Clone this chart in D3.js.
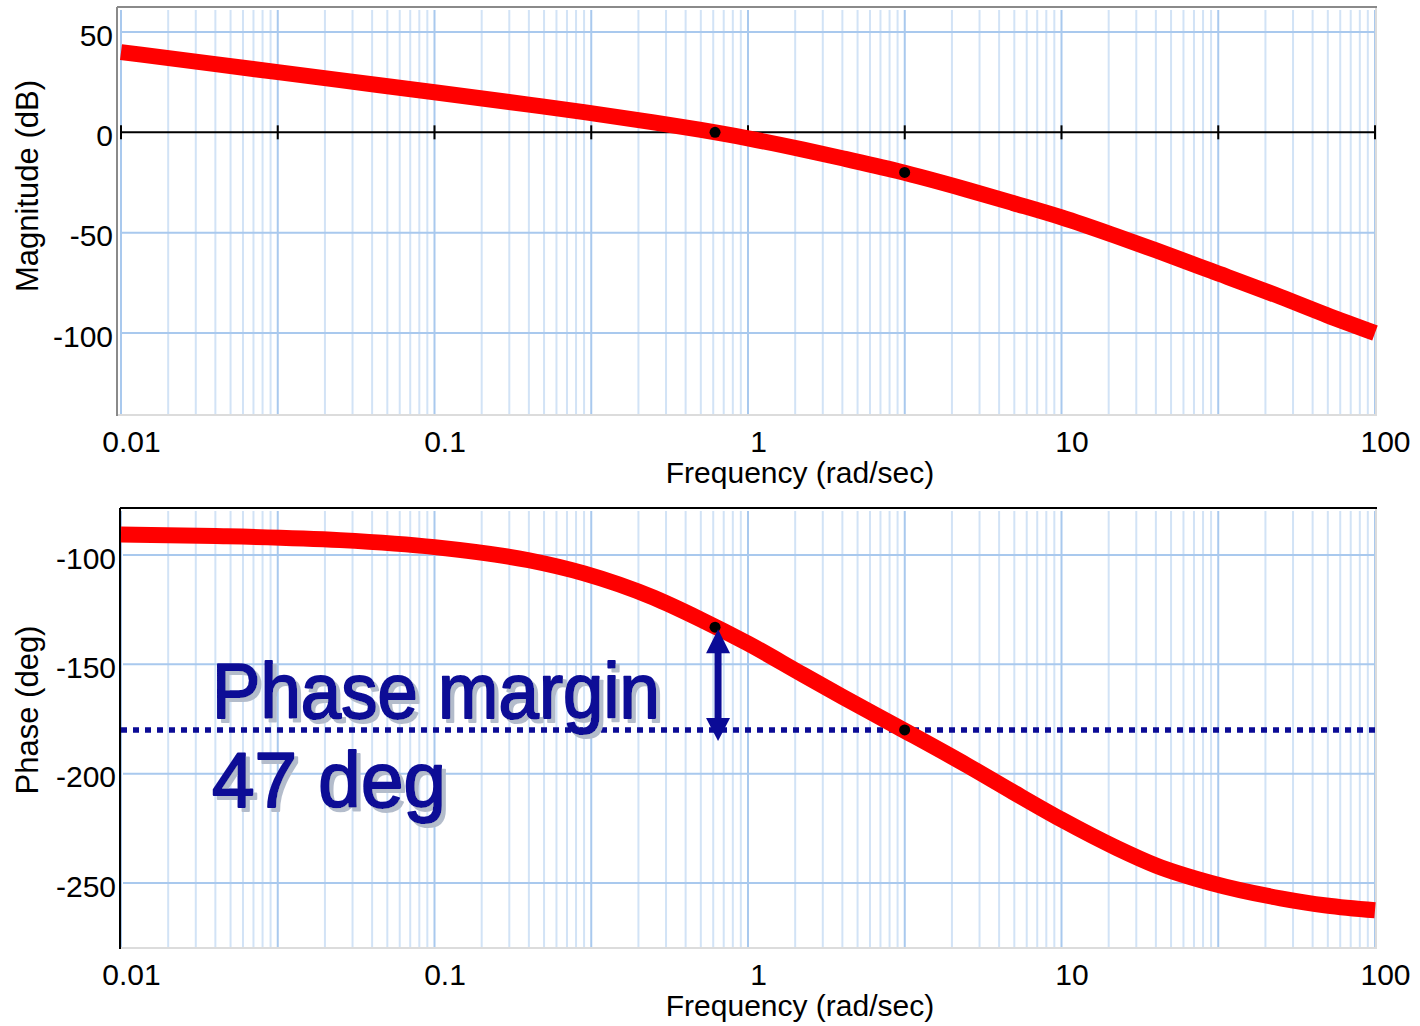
<!DOCTYPE html>
<html>
<head>
<meta charset="utf-8">
<script src="https://cdn.jsdelivr.net/npm/d3@7"></script>
<style>
    html, body { margin: 0; padding: 0; background: #fff; }
    svg { display: block; }
    text { font-family: 'Liberation Sans', Arial, sans-serif; fill: #000; }
</style>
</head>
<body>
<svg id="chart" width="1420" height="1026"></svg>
<script>
// values
var freqs = [0.01, 0.02, 0.05, 0.1, 0.2, 0.3, 0.5, 0.7, 1, 1.5, 2, 3, 5, 7, 10, 15, 20, 30, 50, 70, 100];
var magnitude = [40, 34, 26, 20, 13.8, 10.1, 5, 1.3, -3, -8.6, -12.9, -19.3, -28.6, -35.2, -42.4, -51.8, -58.8, -69, -82, -91, -100];
var phase = [-90.6, -91.3, -93.2, -96.4, -102.4, -108.4, -119.5, -129.2, -140.5, -154.8, -164.8, -178.6, -196.2, -208.4, -221, -234, -242, -250, -257, -260.3, -262.5];

var markerFreqs = [0.785, 3.16];
var markerMag = [0, -20];
var markerPhase = [-133, -180];

var freqTicks = [0.01, 0.1, 1, 10, 100];
var freqTickLabels = ['0.01', '0.1', '1', '10', '100'];
var magTicks = [50, 0, -50, -100];
var phaseTicks = [-100, -150, -200, -250];
var marginLevel = -180;

var svg = d3.select('#chart');

var x = d3.scaleLog().domain([0.01, 100]).range([121, 1375]);
var yMag = d3.scaleLinear().domain([-100, 50]).range([333, 32]);
var yPh = d3.scaleLinear().domain([-250, -100]).range([883, 555]);

var navy = '#0b0b96';
var labelFont = "'Liberation Sans', Arial, sans-serif";

// soft shadow behind the annotation
var shadow = svg.append('defs').append('filter')
    .attr('id', 'shadow')
    .attr('x', '-5%').attr('y', '-10%')
    .attr('width', '115%').attr('height', '130%');
shadow.append('feDropShadow')
    .attr('dx', 4).attr('dy', 4)
    .attr('stdDeviation', 0.6)
    .attr('flood-color', '#b3bccb')
    .attr('flood-opacity', 1);

/**
 * Vertical grid lines: every half decade is a "major" line and the
 * minor ones sit at sqrt(2..9) of it, like the original grid
 */
var gridFreqs = [];
for (var k = 0; k < 8; k++) {
    var base = 0.01 * Math.pow(10, k / 2);
    for (var m = 1; m <= 9; m++) {
        gridFreqs.push({f: base * Math.sqrt(m), major: m === 1});
    }
}
gridFreqs.push({f: 100, major: true});

/**
 * Draws one panel (grid, frame, curve, dots, axis labels)
 */
var drawPanel = function (opt) {
    var g = svg.append('g');
    var y = opt.y;

    // vertical grid
    g.selectAll('line.vg')
        .data(gridFreqs)
        .enter().append('line')
        .attr('x1', function (d) { return x(d.f); })
        .attr('x2', function (d) { return x(d.f); })
        .attr('y1', opt.top + 3)
        .attr('y2', opt.bottom)
        .attr('stroke', function (d) { return d.major ? '#a9c9ee' : '#d2e3f6'; })
        .attr('stroke-width', 2);

    // horizontal grid
    g.selectAll('line.hg')
        .data(opt.gridY)
        .enter().append('line')
        .attr('x1', opt.left + 3)
        .attr('x2', 1376)
        .attr('y1', function (d) { return y(d); })
        .attr('y2', function (d) { return y(d); })
        .attr('stroke', '#a9c9ee')
        .attr('stroke-width', 2);

    // frame
    g.append('line').attr('x1', opt.left).attr('x2', 1377).attr('y1', opt.bottom).attr('y2', opt.bottom)
        .attr('stroke', '#dcdcdc').attr('stroke-width', 2);
    g.append('line').attr('x1', 1376).attr('x2', 1376).attr('y1', opt.top).attr('y2', opt.bottom)
        .attr('stroke', '#dcdcdc').attr('stroke-width', 2);
    g.append('line').attr('x1', opt.left).attr('x2', 1377).attr('y1', opt.top).attr('y2', opt.top)
        .attr('stroke', opt.frame).attr('stroke-width', 2);
    g.append('line').attr('x1', opt.left).attr('x2', opt.left).attr('y1', opt.top).attr('y2', opt.bottom + 1)
        .attr('stroke', opt.frame).attr('stroke-width', 2);

    if (opt.extra) opt.extra(g);

    // the response curve
    var line = d3.line()
        .x(function (d) { return x(d[0]); })
        .y(function (d) { return y(d[1]); })
        .curve(d3.curveMonotoneX);

    g.append('path')
        .datum(d3.zip(freqs, opt.values))
        .attr('d', line)
        .attr('fill', 'none')
        .attr('stroke', '#ff0000')
        .attr('stroke-width', 16)
        .attr('stroke-linejoin', 'round');

    // crossover dots
    g.selectAll('circle')
        .data(d3.zip(markerFreqs, opt.markers))
        .enter().append('circle')
        .attr('cx', function (d) { return x(d[0]); })
        .attr('cy', function (d) { return y(d[1]); })
        .attr('r', 5.5)
        .attr('fill', '#000');

    // y tick labels (plain hyphen, as in the original)
    var yAxis = d3.axisLeft(y).tickValues(opt.yLabels)
        .tickFormat(function (d) { return String(d); })
        .tickSize(0).tickPadding(0);
    var ya = g.append('g')
        .attr('transform', 'translate(' + (opt.left - 4) + ',0)')
        .call(yAxis);
    ya.select('.domain').remove();
    ya.selectAll('text')
        .attr('font-size', 30)
        .attr('font-family', labelFont)
        .attr('dy', '0.44em');

    // x tick labels
    var xAxis = d3.axisBottom(x).tickValues(freqTicks)
        .tickFormat(function (d, i) { return freqTickLabels[i]; })
        .tickSize(0).tickPadding(0);
    var xa = g.append('g')
        .attr('transform', 'translate(10,' + opt.xLabelY + ')')
        .call(xAxis);
    xa.select('.domain').remove();
    xa.selectAll('text')
        .attr('font-size', 30)
        .attr('font-family', labelFont)
        .attr('dy', 0);

    g.append('text')
        .attr('x', 800)
        .attr('y', opt.xLabelY + 31)
        .attr('text-anchor', 'middle')
        .attr('font-size', 30)
        .text('Frequency (rad/sec)');

    g.append('text')
        .attr('transform', 'translate(38,' + opt.titleY + ') rotate(-90)')
        .attr('text-anchor', 'middle')
        .attr('font-size', 31)
        .text(opt.title);

    return g;
};

// magnitude panel
drawPanel({
    y: yMag,
    top: 7,
    bottom: 415,
    left: 117,
    frame: '#8a8a8a',
    gridY: [50, -50, -100],
    yLabels: magTicks,
    values: magnitude,
    markers: markerMag,
    xLabelY: 452,
    titleY: 186,
    title: 'Magnitude (dB)',
    extra: function (g) {
        // black 0 dB axis with half-decade ticks
        g.append('line')
            .attr('x1', x(0.01)).attr('x2', x(100))
            .attr('y1', yMag(0)).attr('y2', yMag(0))
            .attr('stroke', '#000').attr('stroke-width', 2);
        var halfDecades = d3.range(0, 9).map(function (i) { return 0.01 * Math.pow(10, i / 2); });
        g.selectAll('line.tk')
            .data(halfDecades)
            .enter().append('line')
            .attr('x1', function (d) { return x(d); })
            .attr('x2', function (d) { return x(d); })
            .attr('y1', yMag(0) - 7).attr('y2', yMag(0) + 7)
            .attr('stroke', '#000').attr('stroke-width', 2);
    }
});

// phase panel
var phaseG = drawPanel({
    y: yPh,
    top: 508,
    bottom: 948,
    left: 120,
    frame: '#000',
    gridY: phaseTicks,
    yLabels: phaseTicks,
    values: phase,
    markers: markerPhase,
    xLabelY: 985,
    titleY: 710,
    title: 'Phase (deg)',
    extra: function (g) {
        g.append('line')
            .attr('x1', 121).attr('x2', 1376)
            .attr('y1', yPh(marginLevel)).attr('y2', yPh(marginLevel))
            .attr('stroke', navy)
            .attr('stroke-width', 5.5)
            .attr('stroke-dasharray', '6,6');
    }
});

// phase margin arrow
var ax = x(markerFreqs[0]) + 3,
    aTop = yPh(markerPhase[0]) + 2,
    aBot = yPh(marginLevel) + 11;
phaseG.append('line')
    .attr('x1', ax).attr('x2', ax)
    .attr('y1', aTop + 20).attr('y2', aBot - 20)
    .attr('stroke', navy).attr('stroke-width', 7);
phaseG.append('path')
    .attr('d', 'M' + ax + ',' + aTop + 'L' + (ax + 12) + ',' + (aTop + 24) + 'L' + (ax - 12) + ',' + (aTop + 24) + 'Z')
    .attr('fill', navy);
phaseG.append('path')
    .attr('d', 'M' + ax + ',' + aBot + 'L' + (ax + 12) + ',' + (aBot - 23) + 'L' + (ax - 12) + ',' + (aBot - 23) + 'Z')
    .attr('fill', navy);

// annotation, shadow comes from the filter
var note = [
    {text: 'Phase margin', y: 718, width: 448},
    {text: '47 deg', y: 807, width: 234}
];
phaseG.selectAll('text.note')
    .data(note)
    .enter().append('text')
    .attr('class', 'note')
    .attr('x', 212)
    .attr('y', function (d) { return d.y; })
    .attr('font-family', "'Comic Sans MS', 'Comic Neue', 'Open Sans', sans-serif")
    .attr('font-weight', 'normal')
    .attr('font-size', 78)
    .attr('textLength', function (d) { return d.width; })
    .attr('lengthAdjust', 'spacingAndGlyphs')
    .attr('filter', 'url(#shadow)')
    .style('fill', navy)
    .style('stroke', navy)
    .style('stroke-width', 2)
    .style('stroke-linejoin', 'round')
    .text(function (d) { return d.text; });
</script>
</body>
</html>
